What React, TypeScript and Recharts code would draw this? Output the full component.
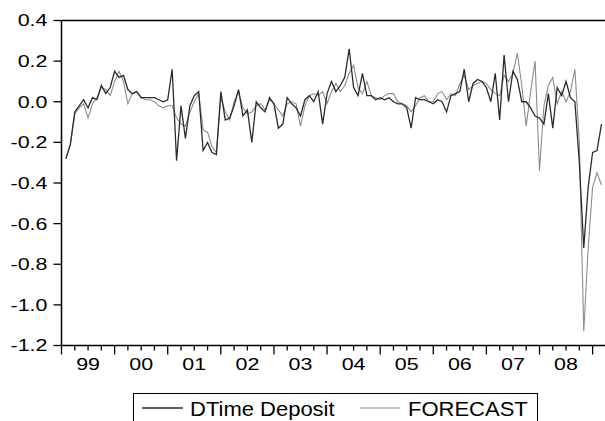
import { LineChart, Line, XAxis, YAxis, ReferenceLine, Legend } from 'recharts';

// months counted from Jan 1999 (0 = 1999M01); first observation is 1999M02
const firstMonth = 1;

const actualValues = [
  -0.28, -0.21, -0.05, -0.02, 0.01, -0.03, 0.02, 0.01, 0.08, 0.04, 0.07,
  0.15, 0.12, 0.13, 0.06, 0.04, 0.05, 0.02, 0.02, 0.02, 0.02, 0.01, 0.0,
  0.01, 0.16, -0.29, -0.02, -0.18, -0.02, 0.03, 0.05, -0.24, -0.2, -0.25, -0.26,
  0.05, -0.09, -0.08, -0.02, 0.06, -0.07, -0.04, -0.2, 0.0, -0.03, -0.05, 0.02,
  -0.01, -0.13, -0.11, 0.02, -0.01, -0.03, -0.07, 0.01, 0.03, 0.0, 0.05, -0.11,
  0.04, 0.1, 0.05, 0.08, 0.12, 0.26, 0.07, 0.03, 0.14, 0.03, 0.03, 0.01,
  0.02, 0.01, 0.02, 0.0, -0.01, -0.01, -0.03, -0.13, 0.02, 0.01, 0.01, 0.0,
  -0.01, 0.01, 0.0, -0.05, 0.03, 0.04, 0.05, 0.16, 0.0, 0.09, 0.11, 0.1,
  0.07, 0.0, 0.14, -0.09, 0.23, 0.0, 0.15, 0.11, 0.0, 0.0, -0.03, -0.07,
  -0.08, -0.11, 0.04, -0.13, 0.07, 0.03, 0.1, 0.02, 0.0, -0.3, -0.72, -0.42,
  -0.25, -0.24, -0.11,
];

const forecastValues = [
  -0.28, -0.21, -0.06, -0.03, -0.01, -0.08, -0.01, 0.02, 0.07, 0.06, 0.03,
  0.1, 0.15, 0.1, -0.01, 0.04, 0.05, 0.02, 0.01, 0.01, 0.0, -0.02, -0.03,
  -0.02, -0.02, -0.08, -0.11, -0.12, -0.05, 0.0, 0.04, -0.14, -0.15, -0.22, -0.25,
  0.02, -0.05, -0.09, 0.0, 0.05, -0.03, -0.06, -0.05, -0.02, -0.01, -0.04, 0.01,
  -0.01, -0.04, -0.07, -0.01, 0.0, -0.01, -0.12, -0.02, 0.03, 0.04, 0.03, 0.05,
  -0.01, 0.05, 0.09, 0.05, 0.08, 0.14, 0.18, 0.07, 0.04, 0.1, 0.03, 0.02,
  0.01, 0.03, 0.04, 0.04, 0.0, -0.01, -0.02, -0.05, -0.02, 0.02, 0.03, 0.0,
  0.0, 0.04, 0.05, 0.01, 0.04, 0.03, 0.09, 0.13, 0.06, 0.08, 0.09, 0.1,
  0.09, 0.06, 0.04, 0.03, 0.13, 0.1, 0.14, 0.24, 0.08, -0.12, 0.05, 0.2,
  -0.34, -0.02, 0.08, 0.12, -0.01, 0.05, 0.0, 0.05, 0.16, -0.2, -1.13, -0.72,
  -0.42, -0.35, -0.41,
];

const yearLabels = ['99', '00', '01', '02', '03', '04', '05', '06', '07', '08'];
const yTicks = [-1.2, -1.0, -0.8, -0.6, -0.4, -0.2, 0.0, 0.2, 0.4];
const quarterTicks = [
  0, 3, 6, 9, 12, 15, 18, 21, 24, 27, 30, 33, 36, 39, 42, 45, 48, 51, 54, 57, 60,
  63, 66, 69, 72, 75, 78, 81, 84, 87, 90, 93, 96, 99, 102, 105, 108, 111, 114, 117, 120,
];

const data = actualValues.map((v, k) => ({
  t: firstMonth + k,
  actual: v,
  forecast: forecastValues[k],
}));

const FONT = '"Liberation Sans", Arial, sans-serif';
const PX_PER_MONTH = (605 - 61.5) / 122.8;

function MonthTick(props: any) {
  const { x, y, payload } = props;
  const m = payload.value as number;
  const major = m % 12 === 0;
  const label = major ? yearLabels[m / 12] : undefined;
  return (
    <g>
      <line x1={x} y1={y} x2={x} y2={y + (major ? 9 : 5)} stroke="#000" strokeWidth={1.3} />
      {label && (
        <text
          transform={`translate(${x + 6 * PX_PER_MONTH},${y + 24.5}) scale(1.3,1)`}
          textAnchor="middle"
          fontFamily={FONT}
          fontSize={16.5}
          fill="#000"
        >
          {label}
        </text>
      )}
    </g>
  );
}

function ValueTick(props: any) {
  const { x, y, payload } = props;
  return (
    <text
      transform={`translate(${x},${y}) scale(1.3,1)`}
      textAnchor="end"
      dy="0.36em"
      fontFamily={FONT}
      fontSize={16.5}
      fill="#000"
    >
      {(payload.value as number).toFixed(1)}
    </text>
  );
}

function LegendBox() {
  return (
    <div style={{ width: 405, height: 36, border: '1.5px solid #000', boxSizing: 'border-box', background: '#fff' }}>
      <svg width={402} height={33} style={{ display: 'block' }}>
        <line x1={8} y1={14} x2={49} y2={14} stroke="#2b2b2b" strokeWidth={1.3} />
        <text transform="translate(56,21.5) scale(1.1,1)" fontFamily={FONT} fontSize={20} fill="#000">
          DTime Deposit
        </text>
        <line x1={226} y1={14} x2={266} y2={14} stroke="#8c8c8c" strokeWidth={1.2} />
        <text transform="translate(274,21.5) scale(1.1,1)" fontFamily={FONT} fontSize={20} fill="#000">
          FORECAST
        </text>
      </svg>
    </div>
  );
}

export default function App() {
  return (
    <div style={{ position: 'absolute', left: 0, top: 0, width: 605, height: 421, overflow: 'hidden', background: '#fff' }}>
      <LineChart width={605} height={421} data={data} margin={{ top: 20.5, right: 0, bottom: 0, left: 0 }}>
        <XAxis
          dataKey="t"
          type="number"
          domain={[0, 122.8]}
          ticks={quarterTicks}
          interval={0}
          tick={<MonthTick />}
          tickLine={false}
          tickSize={0}
          tickMargin={0}
          axisLine={{ stroke: '#000', strokeWidth: 1.5 }}
          height={75.5}
        />
        <YAxis
          type="number"
          domain={[-1.2, 0.4]}
          ticks={yTicks}
          interval={0}
          width={61.5}
          tick={<ValueTick />}
          tickSize={8}
          tickMargin={6}
          stroke="#000"
          tickLine={{ stroke: '#000', strokeWidth: 1.3 }}
          axisLine={{ stroke: '#000', strokeWidth: 1.5 }}
          allowDataOverflow
        />
        <ReferenceLine y={0.4} stroke="#000" strokeWidth={1.5} />
        <Line
          type="linear"
          dataKey="forecast"
          stroke="#8c8c8c"
          strokeWidth={1.1}
          dot={false}
          isAnimationActive={false}
        />
        <Line
          type="linear"
          dataKey="actual"
          stroke="#2b2b2b"
          strokeWidth={1.3}
          dot={false}
          isAnimationActive={false}
        />
        <Legend
          layout="horizontal"
          verticalAlign="middle"
          align="center"
          wrapperStyle={{ position: 'absolute', left: 133, top: 393, width: 405, height: 36 }}
          content={() => <LegendBox />}
        />
      </LineChart>
    </div>
  );
}
